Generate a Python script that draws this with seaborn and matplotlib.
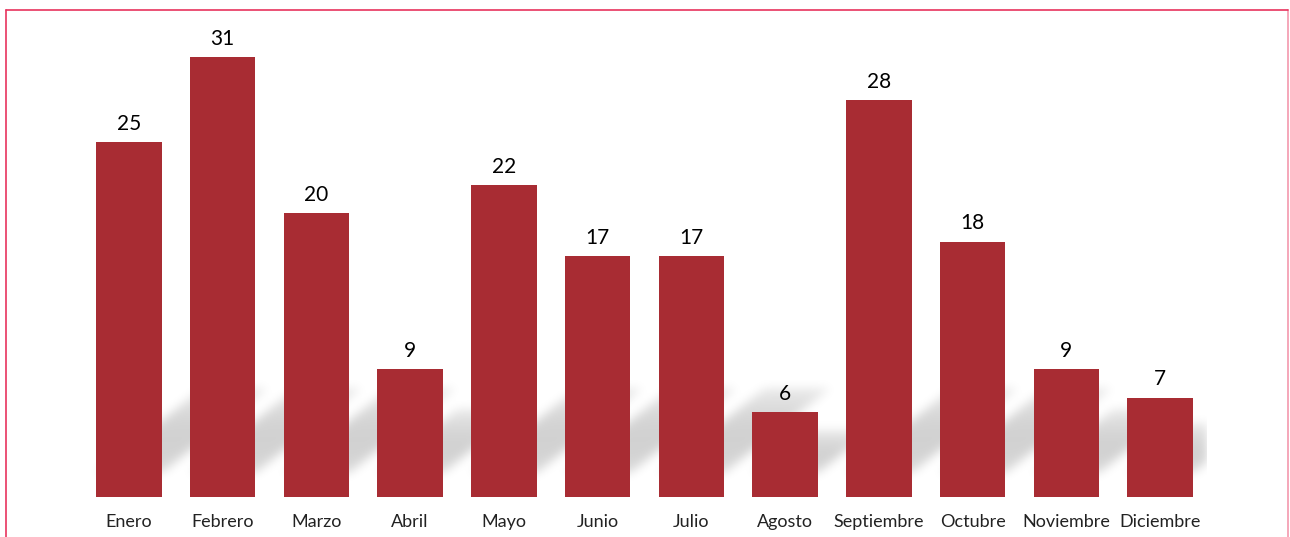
import numpy as np
import matplotlib
matplotlib.use("Agg")
import matplotlib.pyplot as plt
import seaborn as sns
from matplotlib.lines import Line2D

# Data
meses = ['Enero', 'Febrero', 'Marzo', 'Abril', 'Mayo', 'Junio', 'Julio',
         'Agosto', 'Septiembre', 'Octubre', 'Noviembre', 'Diciembre']
valores = [25, 31, 20, 9, 22, 17, 17, 6, 28, 18, 9, 7]

bar_color = '#a82c33'
border_color = '#e8345e'
bar_width = 0.7
y_max = 33

sns.set_style("white")
plt.rcParams['font.family'] = ['Lato', 'DejaVu Sans']

fig = plt.figure(figsize=(12.9, 5.37), dpi=100)
ax = fig.add_axes([82 / 1290, 40 / 537, 1125 / 1290, 468 / 537])

sns.barplot(x=meses, y=valores, color=bar_color, saturation=1, width=bar_width, ax=ax)
for p in ax.patches:
    p.set_zorder(3)
    p.set_linewidth(0)

# Soft diagonal cast shadows behind the bars (raster, blurred)
n = len(valores)
W, H = 1125, 468
ppx = W / n              # pixels per category
ppy = H / y_max          # pixels per unit
X, Y = np.meshgrid(np.arange(W) + 0.5, np.arange(H) + 0.5)
shadow = np.zeros((H, W))
slope = 0.8
lift = 24
for i, v in enumerate(valores):
    x0 = (i + 0.5 - bar_width / 2) * ppx
    x1 = x0 + bar_width * ppx
    dy = min(0.5 * v * ppy, 85)
    dx = dy / slope
    u = (Y - lift) / dy
    xs = X - u * dx
    mask = (u >= 0) & (u <= 1) & (xs >= x0) & (xs <= x1)
    strength = 0.7 + 0.3 * np.sin(np.pi * np.clip(u, 0, 1)) - 0.3 * np.clip(u, 0, 1)
    shadow = np.maximum(shadow, np.where(mask, strength, 0))

# separable gaussian blur
sig = 5
k = np.exp(-0.5 * (np.arange(-3 * sig, 3 * sig + 1) / sig) ** 2)
k /= k.sum()
shadow = np.apply_along_axis(lambda r: np.convolve(r, k, mode='same'), 1, shadow)
shadow = np.apply_along_axis(lambda c: np.convolve(c, k, mode='same'), 0, shadow)

rgba = np.zeros((H, W, 4))
rgba[..., 3] = 0.21 * shadow
ax.imshow(rgba, extent=(-0.5, n - 0.5, 0, y_max), origin='lower',
          aspect='auto', zorder=1, interpolation='bilinear')

ax.set_xlim(-0.5, n - 0.5)
ax.set_ylim(0, y_max)

# Value labels
ax.bar_label(ax.containers[0], labels=[str(v) for v in valores],
             padding=6, fontsize=15, color='black', zorder=4)

# Axes styling
ax.set_xlabel('')
ax.set_ylabel('')
ax.set_yticks([])
ax.tick_params(axis='x', length=0, pad=12, labelsize=13, labelcolor='#222222')
sns.despine(ax=ax, left=True, bottom=True)
ax.set_facecolor('none')

# Frame lines around the figure (top, left, right)
fig.add_artist(Line2D([6 / 1290, 1288 / 1290], [1 - 10 / 537, 1 - 10 / 537],
                      transform=fig.transFigure, color=border_color, lw=1.2))
fig.add_artist(Line2D([6 / 1290, 6 / 1290], [0, 1 - 10 / 537],
                      transform=fig.transFigure, color=border_color, lw=1.2))
fig.add_artist(Line2D([1288 / 1290, 1288 / 1290], [0, 1 - 10 / 537],
                      transform=fig.transFigure, color=border_color, lw=1.2, alpha=0.5))

fig.savefig('out.png', dpi=100)
